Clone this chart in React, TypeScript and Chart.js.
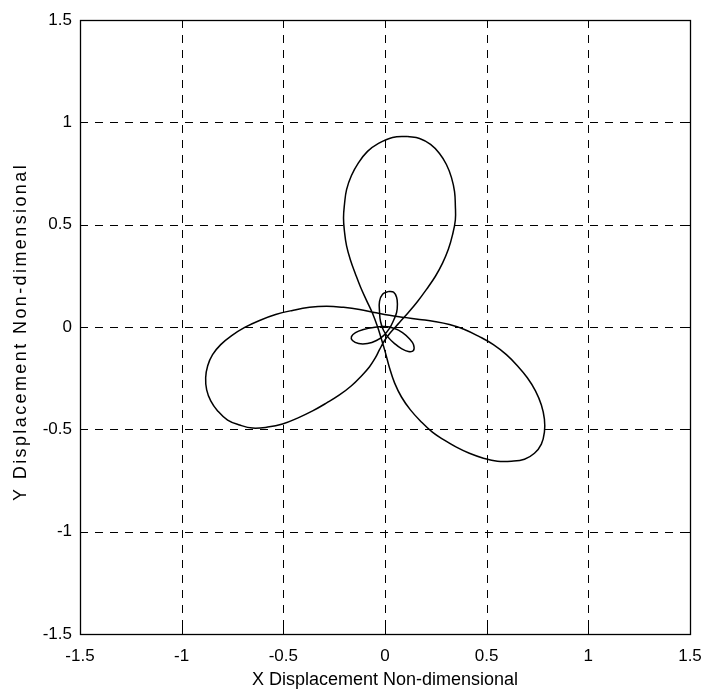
import React, { useEffect, useRef } from "react";
import { Chart, registerables } from "chart.js";

Chart.register(...registerables);

const FONT = "'Liberation Sans', Arial, Helvetica, sans-serif";

const xTickValues = [-1.5, -1, -0.5, 0, 0.5, 1, 1.5];
const yTickValues = [-1.5, -1, -0.5, 0, 0.5, 1, 1.5];
const xTitle = "X Displacement Non-dimensional";
const yTitle = "Y Displacement Non-dimensional";

// Large three-petal orbit
const outerX = [0.111, 0.17, 0.224, 0.268, 0.302, 0.327, 0.342, 0.346, 0.346, 0.332, 0.312, 0.283, 0.248, 0.204, 0.16, 0.115, 0.071, 0.027, -0.002, -0.027, -0.047, -0.076, -0.115, -0.165, -0.224, -0.287, -0.356, -0.43, -0.504, -0.577, -0.651, -0.715, -0.774, -0.823, -0.857, -0.877, -0.882, -0.872, -0.848, -0.808, -0.754, -0.69, -0.617, -0.538, -0.455, -0.371, -0.287, -0.204, -0.125, -0.052, 0.022, 0.096, 0.17, 0.243, 0.317, 0.391, 0.464, 0.533, 0.597, 0.651, 0.7, 0.74, 0.769, 0.784, 0.784, 0.769, 0.735, 0.686, 0.622, 0.553, 0.484, 0.415, 0.351, 0.292, 0.233, 0.174, 0.125, 0.081, 0.047, 0.022, 0.002, -0.017, -0.037, -0.061, -0.091, -0.12, -0.145, -0.17, -0.189, -0.199, -0.204, -0.199, -0.189, -0.165, -0.13, -0.086, -0.032, 0.037, 0.111];
const outerY = [0.931, 0.921, 0.892, 0.848, 0.794, 0.73, 0.661, 0.592, 0.523, 0.45, 0.381, 0.312, 0.248, 0.184, 0.125, 0.071, 0.022, -0.027, -0.066, -0.111, -0.15, -0.194, -0.238, -0.287, -0.332, -0.371, -0.41, -0.445, -0.474, -0.489, -0.494, -0.479, -0.455, -0.41, -0.361, -0.307, -0.248, -0.189, -0.135, -0.086, -0.042, -0.002, 0.032, 0.061, 0.081, 0.096, 0.101, 0.096, 0.086, 0.071, 0.057, 0.047, 0.037, 0.027, 0.012, -0.012, -0.047, -0.086, -0.135, -0.189, -0.248, -0.312, -0.381, -0.45, -0.514, -0.572, -0.617, -0.646, -0.656, -0.656, -0.641, -0.617, -0.587, -0.553, -0.514, -0.459, -0.405, -0.342, -0.273, -0.199, -0.125, -0.061, 0.002, 0.066, 0.13, 0.194, 0.258, 0.327, 0.396, 0.464, 0.533, 0.602, 0.671, 0.74, 0.803, 0.858, 0.897, 0.926, 0.931];

// Small inner three-petal loops
const innerX = [0.017, 0.042, 0.057, 0.061, 0.057, 0.042, 0.022, -0.007, -0.042, -0.086, -0.13, -0.16, -0.165, -0.145, -0.106, -0.057, -0.002, 0.047, 0.086, 0.12, 0.14, 0.14, 0.115, 0.081, 0.047, 0.017, -0.007, -0.022, -0.027, -0.027, -0.012, 0.017];
const innerY = [0.174, 0.17, 0.145, 0.111, 0.071, 0.032, -0.007, -0.042, -0.066, -0.081, -0.081, -0.066, -0.047, -0.027, -0.012, -0.002, 0.002, -0.007, -0.027, -0.057, -0.086, -0.115, -0.12, -0.106, -0.081, -0.052, -0.017, 0.027, 0.076, 0.125, 0.16, 0.174];

const toPoints = (xs: number[], ys: number[]) => xs.map((x, i) => ({ x, y: ys[i] }));

const framePlugin = {
  id: "matlabFrame",
  beforeDatasetsDraw(chart: any) {
    const { ctx, chartArea: a, scales } = chart;
    const xs = scales.x;
    const ys = scales.y;
    ctx.save();
    ctx.strokeStyle = "#000";
    ctx.lineWidth = 1;
    ctx.setLineDash([8, 7]);
    xTickValues.forEach((v) => {
      if (v <= xs.min || v >= xs.max) return;
      const px = Math.round(xs.getPixelForValue(v)) + 0.5;
      ctx.beginPath();
      ctx.moveTo(px, a.top);
      ctx.lineTo(px, a.bottom);
      ctx.stroke();
    });
    yTickValues.forEach((v) => {
      if (v <= ys.min || v >= ys.max) return;
      const py = Math.round(ys.getPixelForValue(v)) + 0.5;
      ctx.beginPath();
      ctx.moveTo(a.left, py);
      ctx.lineTo(a.right, py);
      ctx.stroke();
    });
    ctx.setLineDash([]);
    const tl = 6;
    xTickValues.forEach((v) => {
      const px = Math.round(xs.getPixelForValue(v)) + 0.5;
      ctx.beginPath();
      ctx.moveTo(px, a.bottom);
      ctx.lineTo(px, a.bottom - tl);
      ctx.moveTo(px, a.top);
      ctx.lineTo(px, a.top + tl);
      ctx.stroke();
    });
    yTickValues.forEach((v) => {
      const py = Math.round(ys.getPixelForValue(v)) + 0.5;
      ctx.beginPath();
      ctx.moveTo(a.left, py);
      ctx.lineTo(a.left + tl, py);
      ctx.moveTo(a.right, py);
      ctx.lineTo(a.right - tl, py);
      ctx.stroke();
    });
    ctx.lineWidth = 1.3;
    ctx.strokeRect(Math.round(a.left) + 0.5, Math.round(a.top) + 0.5, Math.round(a.width), Math.round(a.height));
    ctx.fillStyle = "#000";
    ctx.font = `18px ${FONT}`;
    try {
      (ctx as any).letterSpacing = "2.4px";
    } catch (e) {}
    ctx.textAlign = "center";
    ctx.textBaseline = "middle";
    ctx.translate(21, (a.top + a.bottom) / 2 + 5);
    ctx.rotate(-Math.PI / 2);
    ctx.fillText(yTitle, 0, 0);
    ctx.restore();
  },
};

const fmt = (v: any) => String(Number(v));

export default function App() {
  const canvasRef = useRef<HTMLCanvasElement | null>(null);

  useEffect(() => {
    document.body.style.margin = "0";
    const canvas = canvasRef.current;
    if (!canvas) return;
    const lineStyle = {
      showLine: true,
      borderColor: "#000",
      borderWidth: 1.5,
      pointRadius: 0,
      tension: 0.4,
      fill: false,
    };
    const chart = new Chart(canvas, {
      type: "scatter",
      data: {
        datasets: [
          { data: toPoints(outerX, outerY), ...lineStyle },
          { data: toPoints(innerX, innerY), ...lineStyle },
        ],
      },
      options: {
        responsive: false,
        animation: false,
        devicePixelRatio: 1,
        layout: { padding: { left: 0, right: 18, top: 20, bottom: 0 } },
        plugins: {
          legend: { display: false },
          tooltip: { enabled: false },
        },
        scales: {
          x: {
            type: "linear",
            min: -1.5,
            max: 1.5,
            afterBuildTicks: (s: any) => {
              s.ticks = xTickValues.map((v) => ({ value: v }));
            },
            ticks: {
              color: "#000",
              padding: 12,
              maxRotation: 0,
              autoSkip: false,
              callback: fmt,
              font: { family: FONT, size: 17 },
            },
            grid: { display: false, drawTicks: false },
            border: { display: false },
            title: {
              display: true,
              text: xTitle,
              color: "#000",
              font: { family: FONT, size: 18 },
              padding: { top: 0, bottom: 5 },
            },
            afterFit: (s: any) => {
              s.height = 62;
              s.paddingLeft = 0;
              s.paddingRight = 0;
            },
          },
          y: {
            type: "linear",
            min: -1.5,
            max: 1.5,
            afterBuildTicks: (s: any) => {
              s.ticks = yTickValues.map((v) => ({ value: v }));
            },
            ticks: {
              color: "#000",
              padding: 8,
              autoSkip: false,
              callback: fmt,
              font: { family: FONT, size: 17 },
            },
            grid: { display: false, drawTicks: false },
            border: { display: false },
            afterFit: (s: any) => {
              s.width = 80;
              s.paddingTop = 0;
              s.paddingBottom = 0;
            },
          },
        },
      },
      plugins: [framePlugin],
    } as any);
    return () => chart.destroy();
  }, []);

  return (
    <div style={{ width: 708, height: 696, background: "#fff" }}>
      <canvas ref={canvasRef} width={708} height={696} style={{ display: "block" }} />
    </div>
  );
}
